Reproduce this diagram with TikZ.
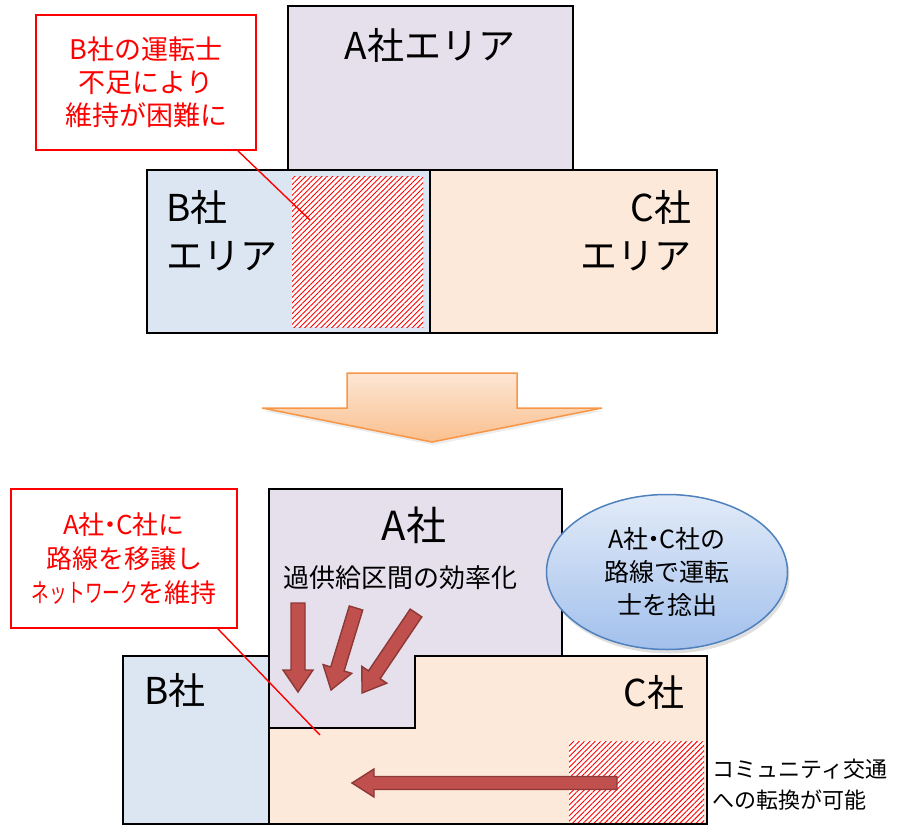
\documentclass[tikz,border=0pt]{standalone}
\usepackage{fontspec}
\usepackage{graphicx}
\setmainfont{Noto Sans CJK JP}
\usetikzlibrary{calc,shapes.geometric,patterns.meta,shadows}
\definecolor{lav}{HTML}{E5E0EC}
\definecolor{lblue}{HTML}{DCE6F2}
\definecolor{peach}{HTML}{FDE9D9}
\definecolor{arrfill}{HTML}{C0504D}
\definecolor{arrdraw}{HTML}{8C3836}
\definecolor{orgdraw}{HTML}{F79646}
\definecolor{orgtop}{HTML}{FDE6D4}
\definecolor{orgbot}{HTML}{FAC08F}
\definecolor{elltop}{HTML}{E2EBF8}
\definecolor{ellbot}{HTML}{A2C0EC}
\definecolor{elldraw}{HTML}{4F81BD}
\newcommand\ndot{\hspace{-0.28em}・\hspace{-0.28em}}
\tikzset{
  area/.style={draw=black, line width=2.8pt, inner sep=0pt},
  callout/.style={draw=red, line width=1.8pt, fill=white, text=red, align=center, inner sep=0pt},
  leader/.style={draw=red, line width=1.4pt},
  hatch/.style={inner sep=0pt, preaction={fill=white}, pattern={Lines[angle=45,distance=3.8pt,line width=0.9pt]}, pattern color=red},
  bigarr/.style={fill=arrfill, draw=arrdraw, line width=1.4pt, line join=miter},
  big/.style={font=\fontsize{37}{48}\selectfont},
}
\newcommand\fatarrow[5]{% #1 tail, #2 tip, #3 name, #4 shaft half width, #5 head half width
  \coordinate (#3b) at ($(#2)!22pt!(#1)$);
  \path[bigarr] ($(#1)!#4!90:(#2)$) -- ($(#3b)!#4!90:(#2)$) -- ($(#3b)!#5!90:(#2)$) -- (#2)
    -- ($(#3b)!#5!-90:(#2)$) -- ($(#3b)!#4!-90:(#2)$) -- ($(#1)!#4!-90:(#2)$) -- cycle;
}
\begin{document}
\begin{tikzpicture}[x=1pt,y=-1pt]
\useasboundingbox (0,0) rectangle (902,826);
% ---------- top ----------
\node[area, fill=lav, minimum width=285pt, minimum height=164pt] (Atop) at (430.5,88) {};
\node[area, fill=lblue, minimum width=283pt, minimum height=163pt] (Btop) at (288.5,251.5) {};
\node[area, fill=peach, minimum width=287pt, minimum height=163pt] (Ctop) at (573.5,251.5) {};
\node[hatch, minimum width=131pt, minimum height=150pt] (H1) at (357.5,252) {};
\node[big] (tA) at (430,45) {A社エリア};
\node[big, align=left, anchor=west] (tB) at (163,231) {B社\\エリア};
\node[big, align=right, anchor=east] (tC) at (695,231) {C社\\エリア};
\node[callout, minimum width=220pt, minimum height=135pt, font=\fontsize{27}{33}\selectfont] (c1) at (146,82.5) {B社の運転士\\不足により\\維持が困難に};
\coordinate (p1) at (310,220);
% ---------- transition arrow ----------
\path[draw=orgdraw, line width=1.5pt, top color=orgtop, bottom color=orgbot,
      drop shadow={opacity=0.15, shadow xshift=1pt, shadow yshift=-3pt}]
  (347,373) -- (517,373) -- (517,408) -- (602,408) -- (432,442) -- (262,408) -- (347,408) -- cycle;
% ---------- bottom ----------
\node[area, fill=lav, minimum width=293pt, minimum height=239pt] (Abot) at (415.5,608.5) {};
\path[area, fill=peach] (415,656) -- (707,656) -- (707,824) -- (269,824) -- (269,728) -- (415,728) -- cycle;
\node[area, fill=lblue, minimum width=146pt, minimum height=168pt] (Bbot) at (196,740) {};
\node[hatch, minimum width=135pt, minimum height=81pt] (H2) at (636.5,781.5) {};
\node[font=\fontsize{40}{48}\selectfont] (tA2) at (414,525) {A社};
\node[font=\fontsize{26}{32}\selectfont] (eff) at (400,578) {過供給区間の効率化};
\node[big] (tB2) at (175,690) {B社};
\node[big, anchor=east] (tC2) at (688,692) {C社};
\coordinate (a1t) at (298,603); \coordinate (a1h) at (298,692);
\coordinate (a2t) at (356,608); \coordinate (a2h) at (331,690);
\coordinate (a3t) at (416,613); \coordinate (a3h) at (362,693);
\coordinate (a4t) at (617,783); \coordinate (a4h) at (352,783);
\fatarrow{a1t}{a1h}{a1}{7pt}{15pt}
\fatarrow{a2t}{a2h}{a2}{7pt}{15pt}
\fatarrow{a3t}{a3h}{a3}{7pt}{15pt}
\fatarrow{a4t}{a4h}{a4}{6.5pt}{14pt}
\node[ellipse, draw=elldraw, line width=1.5pt, top color=elltop, bottom color=ellbot,
      minimum width=241pt, minimum height=155pt, inner sep=0pt, align=center,
      font=\fontsize{25}{33}\selectfont,
      drop shadow={opacity=0.25, shadow xshift=2pt, shadow yshift=-4pt}] (E) at (667,572) {A社\ndot C社の\\路線で運転\\士を捻出};
\node[callout, minimum width=226pt, minimum height=139pt, font=\fontsize{26}{34}\selectfont] (c2) at (124,558.5) {A社\ndot C社に\\路線を移譲し\\\scalebox{0.68}[1]{ネットワーク}を維持};
\coordinate (p2) at (320,735);
\node[anchor=west, align=left, font=\fontsize{22}{31}\selectfont] (note) at (709,785) {コミュニティ交通\\への転換が可能};
% ---------- leaders ----------
\draw[leader] ($(c1.south)+(92,0)$) -- (p1);
\draw[leader] ($(c2.south)+(94,0)$) -- (p2);
\end{tikzpicture}
\end{document}
